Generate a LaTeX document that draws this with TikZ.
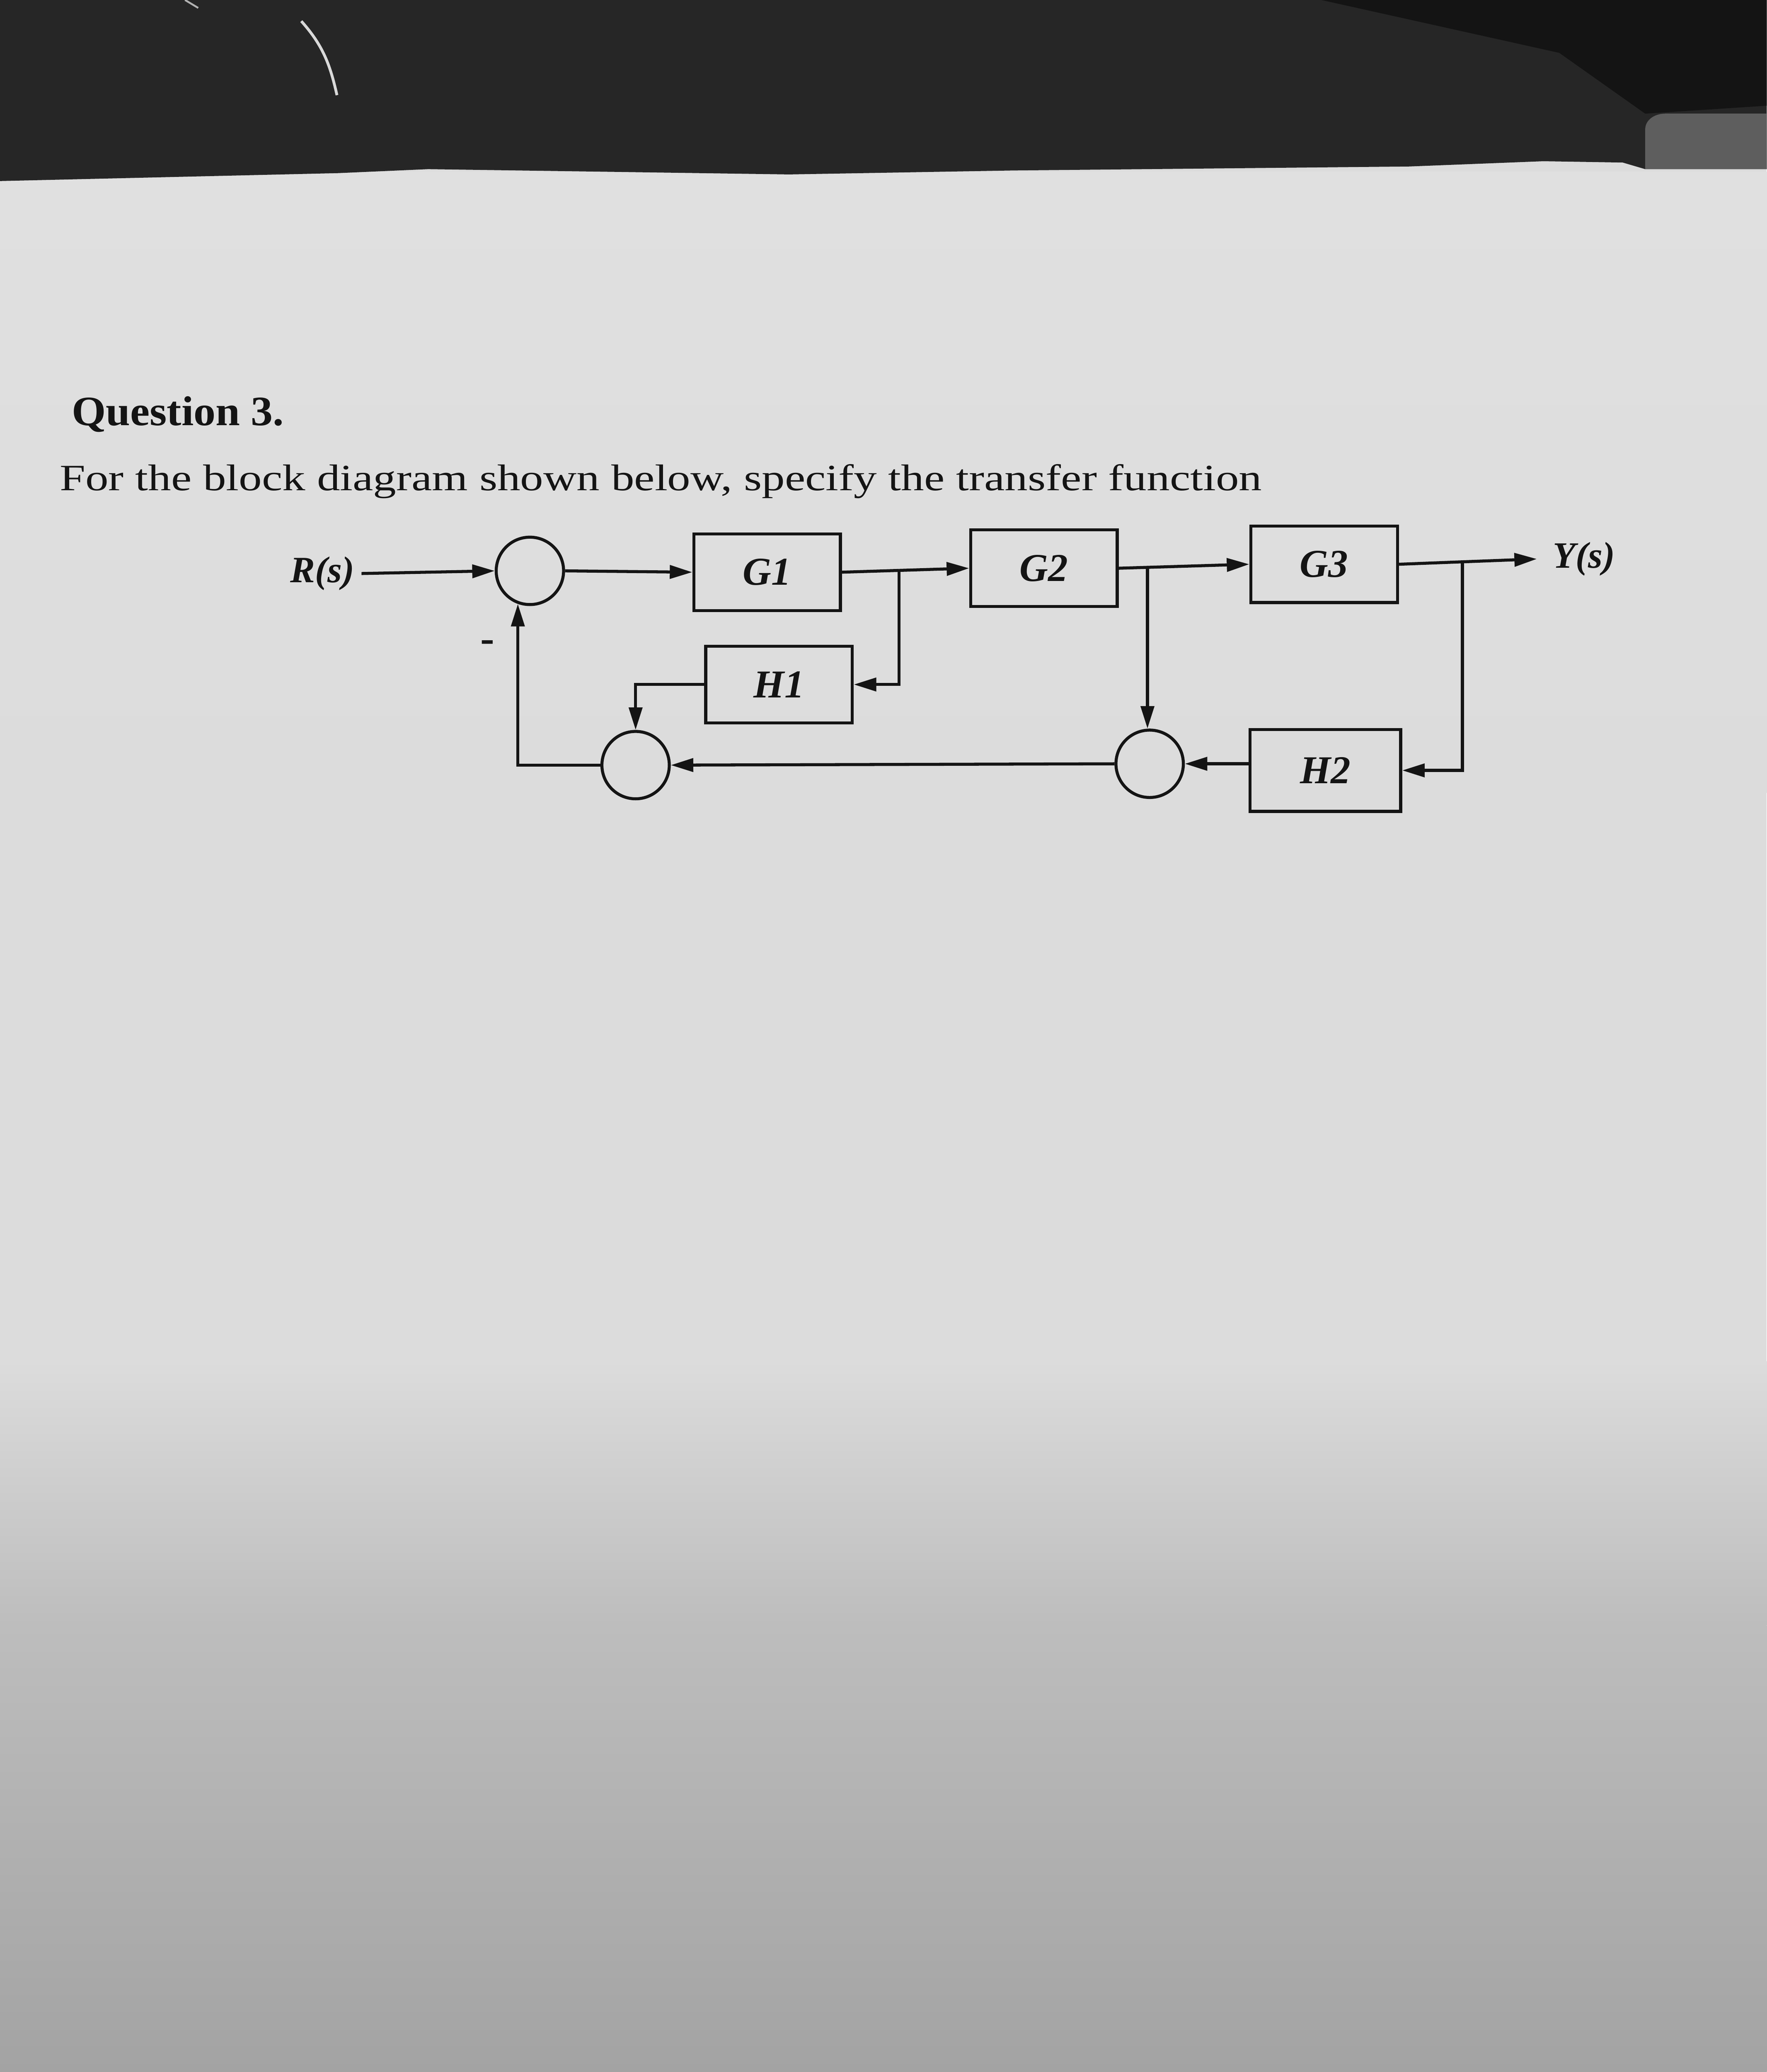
\documentclass[tikz,border=0pt]{standalone}
\usepackage{fontspec}
\setmainfont{Liberation Serif}
\newfontfamily\qfont[FakeStretch=1.05]{Liberation Serif}
\newfontfamily\sfont[FakeStretch=1.24]{Liberation Serif}
\usetikzlibrary{arrows.meta,calc}
\definecolor{ink}{HTML}{141414}
\definecolor{paper}{HTML}{DCDCDC}
\definecolor{paperhi}{HTML}{E0E0E0}
\definecolor{midgray}{HTML}{BDBDBD}
\definecolor{lowgray}{HTML}{A3A3A3}
\definecolor{darkband}{HTML}{262626}
\definecolor{blockgray}{HTML}{5E5E5E}
\begin{document}
\begin{tikzpicture}[x=0.02cm,y=-0.02cm,
  blk/.style={draw=ink,line width=1.3pt,minimum width=2.22cm,minimum height=1.16cm,inner sep=0pt,text=ink,font=\fontsize{17}{17}\selectfont\bfseries\itshape},
  sumj/.style={draw=ink,circle,line width=1.3pt,minimum size=1.02cm,inner sep=0pt},
  sig/.style={draw=ink,line width=1.3pt,-{Triangle[length=0.34cm,width=0.2cm]}},
  wire/.style={draw=ink,line width=1.3pt},
  lbl/.style={font=\fontsize{16}{16}\selectfont\bfseries\itshape,inner sep=0.1cm,text=ink}]
% ---------- background ----------
\useasboundingbox (0,0) rectangle (1337,1568);
\fill[paper] (0,0) rectangle (1337,1568);
\shade[top color=paperhi,bottom color=paper] (0,130) rectangle (1337,600);
\shade[top color=paper,bottom color=midgray] (0,1030) rectangle (1337,1230);
\shade[top color=midgray,bottom color=lowgray] (0,1230) rectangle (1337,1568);
\fill[darkband] (0,0) -- (1337,0) -- (1337,128) -- (1245,128) -- (1228,123)
  -- (1168,122) -- (1066,126) -- (767,129) -- (597,132) -- (324,128)
  -- (256,131) -- (0,137) -- cycle;
\fill[black!92] (1000,0) -- (1337,0) -- (1337,80) -- (1245,86) -- (1180,40) -- cycle;
\fill[blockgray] (1245,128) -- (1245,98) to[out=90,in=180] (1260,86) -- (1337,86) -- (1337,128) -- cycle;
\draw[white!85!black,line width=1.2pt] (228,16) .. controls (245,35) and (250,50) .. (255,72);
\draw[white!70!black,line width=0.8pt] (140,0) -- (150,6);
% ---------- texts ----------
\node[anchor=base west,inner sep=0pt,text=ink,font=\qfont\bfseries\fontsize{18}{18}\selectfont] (q) at (54,322) {Question 3.};
\node[anchor=base west,inner sep=0pt,text=ink,font=\sfont\fontsize{16}{16}\selectfont] (t) at (45,371) {For the block diagram shown below, specify the transfer function};
% ---------- blocks ----------
\node[blk] (G1) at (580.5,433) {G1};
\node[blk] (G2) at (790,430) {G2};
\node[blk] (G3) at (1002,427) {G3};
\node[blk] (H1) at (589.5,518) {H1};
\node[blk,minimum width=2.28cm,minimum height=1.24cm] (H2) at (1003,583) {H2};
\node[sumj] (S1) at (401,432) {};
\node[sumj] (S2) at (481,579) {};
\node[sumj] (S3) at (870,578) {};
\node[lbl] (R) at (244,434) {R(s)};
\node[lbl,anchor=west] (Y) at (1170,423) {Y(s)};
\node[inner sep=0pt,text=ink,font=\fontsize{18}{18}\selectfont\bfseries] (minus) at (369,489) {-};
% ---------- coordinates ----------
\coordinate (b1) at ($(G1.east)!0.45!(G2.west)$);
\coordinate (b2) at ($(G2.east)!0.22!(G3.west)$);
\coordinate (b3) at ($(G3.east)!0.46!(1163,423)$);
\coordinate (yout) at (1163,423);
% ---------- connectors ----------
\draw[sig] (R.east) -- (S1.west);
\draw[sig] (S1.east) -- (G1.west);
\draw[wire] (G1.east) -- (b1);
\draw[sig] (b1) -- (G2.west);
\draw[sig] (b1) |- (H1.east);
\draw[sig] (H1.west) -| (S2.north);
\draw[wire] (G2.east) -- (b2);
\draw[sig] (b2) -- (G3.west);
\draw[sig] (b2) -- (b2 |- S3.north);
\draw[wire] (G3.east) -- (b3);
\draw[sig] (b3) -- (yout);
\draw[sig] (b3) |- (H2.east);
\draw[sig] (H2.west |- S3.east) -- (S3.east);
\draw[sig] (S3.west) -- (S2.east);
\draw[sig] (S2.west) -| (S1.250);
\end{tikzpicture}
\end{document}
